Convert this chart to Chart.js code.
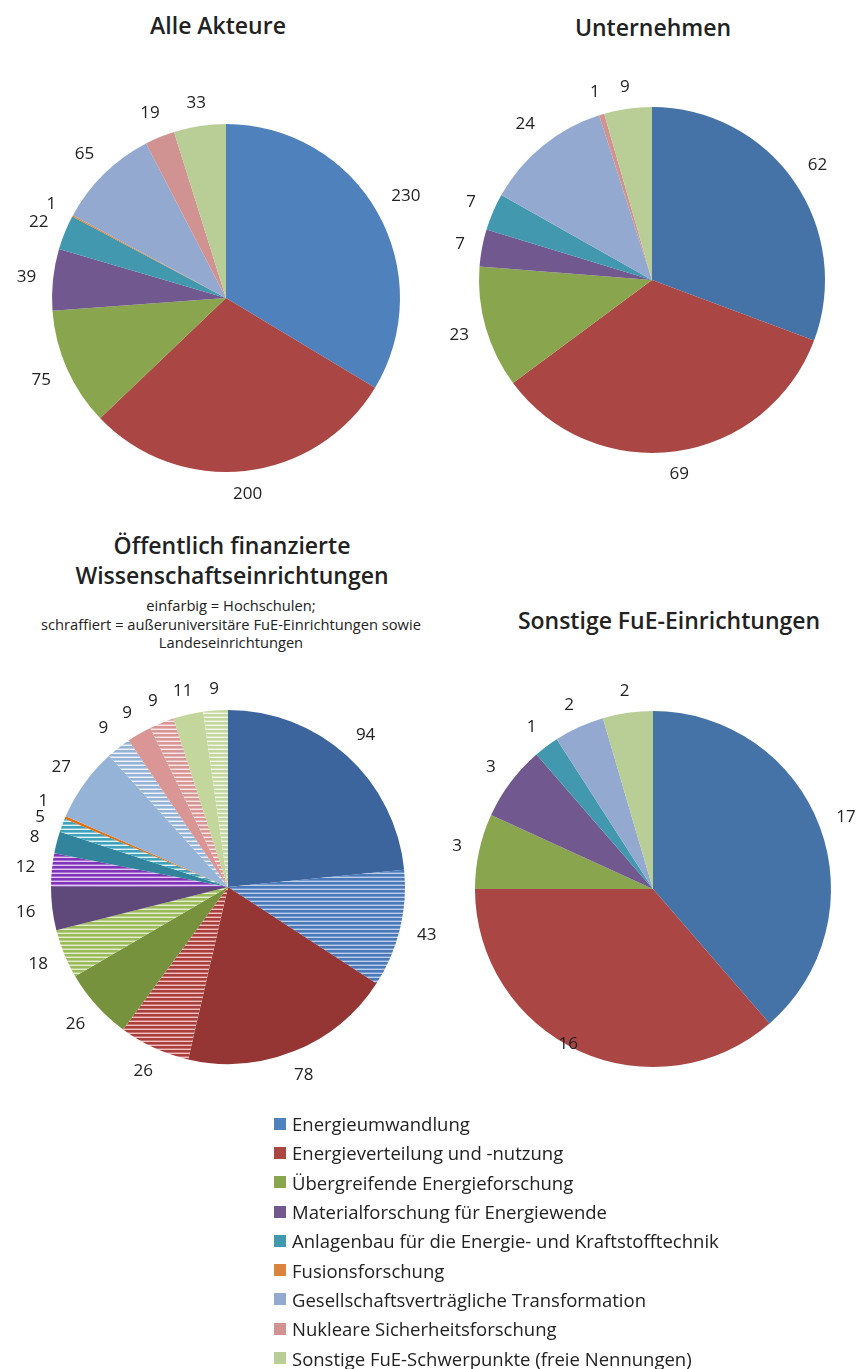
<!DOCTYPE html>
<html>
<head>
<meta charset="utf-8">
<script src="https://cdn.jsdelivr.net/npm/chart.js@4.4.0/dist/chart.umd.min.js"></script>
<style>
  html, body { margin:0; padding:0; }
  body { width:860px; height:1369px; background:#fff; position:relative; overflow:hidden;
         font-family:"Open Sans", "Noto Sans", sans-serif; color:#222; }
  .title { position:absolute; text-align:center; font-weight:600; font-size:23px; line-height:30px; white-space:nowrap; transform:translateX(-50%); }
  .sub { position:absolute; text-align:center; font-size:14.7px; line-height:18.5px; white-space:nowrap; transform:translateX(-50%); }
  canvas { position:absolute; }
  #legend { position:absolute; left:274px; top:1109px; font-size:18.5px; }
  #legend .it { height:29.3px; display:flex; align-items:center; white-space:nowrap; }
  #legend .sw { width:12px; height:12px; margin-right:6px; flex:none; }
</style>
</head>
<body>
<div class="title" style="left:218px;top:10px;">Alle Akteure</div>
<div class="title" style="left:653px;top:12px;">Unternehmen</div>
<div class="title" style="left:232px;top:530px;">Öffentlich finanzierte</div>
<div class="title" style="left:232px;top:560px;">Wissenschaftseinrichtungen</div>
<div class="sub" style="left:231px;top:596px;">einfarbig = Hochschulen;<br>schraffiert = außeruniversitäre FuE-Einrichtungen sowie<br>Landeseinrichtungen</div>
<div class="title" style="left:669px;top:605px;">Sonstige FuE-Einrichtungen</div>

<canvas id="c1" width="480" height="480"></canvas>
<canvas id="c2" width="480" height="480"></canvas>
<canvas id="c3" width="490" height="490"></canvas>
<canvas id="c4" width="490" height="490"></canvas>
<div id="legend"></div>

<script>
// ---------------- DATA ----------------
const categories = [
  'Energieumwandlung',
  'Energieverteilung und -nutzung',
  'Übergreifende Energieforschung',
  'Materialforschung für Energiewende',
  'Anlagenbau für die Energie- und Kraftstofftechnik',
  'Fusionsforschung',
  'Gesellschaftsverträgliche Transformation',
  'Nukleare Sicherheitsforschung',
  'Sonstige FuE-Schwerpunkte (freie Nennungen)'
];
const alleAkteure  = [230, 200, 75, 39, 22, 1, 65, 19, 33];
const unternehmen  = [62, 69, 23, 7, 7, 0, 24, 1, 9];
const hochschulen  = [94, 78, 26, 16, 8, 1, 27, 9, 11];   // einfarbig
const ausserUniv   = [43, 26, 18, 12, 5, 0, 9, 9, 9];     // schraffiert
const sonstigeFuE  = [17, 16, 3, 3, 1, 0, 2, 0, 2];

// ---------------- STYLES ----------------
const colorsAlle  = ['#4F81BD','#AA4643','#89A54E','#71588F','#4198AF','#DB843D','#93A9CF','#D19392','#B9CD96'];
const colorsOther = ['#4572A7','#AA4643','#89A54E','#71588F','#4198AF','#DB843D','#93A9CF','#D19392','#B9CD96'];
const colorsSolid3 = ['#3D659D','#963634','#76923C','#5F497A','#31849B','#E46C0A','#95B3D7','#D99694','#C3D69B'];
const hatchLine3   = ['#4A78B8','#A83F3E','#9BBB59','#8035B8','#3FA3BC','#E46C0A','#95B3D7','#D99694','#C3D69B'];
const hatchGap3    = ['#BCD0EA','#F4C2BF','#E4EDD2','#E2C8F2','#E6F4F8','#FBE0CB','#F2F6FB','#F9EAEA','#F3F7EB'];

function hatch(line, gap) {
  const c = document.createElement('canvas');
  c.width = 8; c.height = 4;
  const x = c.getContext('2d');
  x.fillStyle = gap; x.fillRect(0, 0, 8, 4);
  x.fillStyle = line; x.fillRect(0, 0, 8, 2.6);
  return x.createPattern(c, 'repeat');
}

// ---------------- LABEL PLUGIN ----------------
const outLabels = {
  id: 'outLabels',
  afterDatasetsDraw(chart, args, opts) {
    const ctx = chart.ctx;
    const meta = chart.getDatasetMeta(0);
    const data = chart.data.datasets[0].data;
    ctx.save();
    ctx.font = opts.font;
    ctx.fillStyle = opts.color;
    ctx.textAlign = 'center';
    ctx.textBaseline = 'middle';
    const placed = [];
    meta.data.forEach((arc, i) => {
      const v = data[i];
      if (!v) return;
      const p = arc.getProps(['x','y','startAngle','endAngle','outerRadius'], true);
      const mid = (p.startAngle + p.endAngle) / 2;
      const txt = String(v);
      const hw = ctx.measureText(txt).width / 2 + opts.padX;
      const hh = opts.halfH;
      const d = p.outerRadius + opts.gap + Math.abs(Math.cos(mid)) * hw + Math.abs(Math.sin(mid)) * hh;
      let lx = p.x + Math.cos(mid) * d;
      let ly = p.y + Math.sin(mid) * d;
      // simple overlap avoidance with previous label
      const prev = placed[placed.length - 1];
      if (prev && Math.abs(prev.x - lx) < 18 && Math.abs(prev.y - ly) < 16) {
        ly = lx < p.x ? prev.y - 16 : prev.y + 16;
      }
      if (opts.maxY !== undefined && ly > opts.maxY) ly = opts.maxY;
      placed.push({x: lx, y: ly});
      ctx.fillText(txt, lx, ly);
    });
    ctx.restore();
  }
};

function makePie(id, cx, cy, r, values, colors, extra) {
  const cv = document.getElementById(id);
  cv.style.left = (cx - cv.width / 2) + 'px';
  cv.style.top = (cy - cv.height / 2) + 'px';
  return new Chart(cv, {
    type: 'pie',
    data: {
      labels: extra && extra.labels ? extra.labels : categories,
      datasets: [{
        data: values,
        backgroundColor: colors,
        borderWidth: 0,
        hoverOffset: 0,
        offset: 0
      }]
    },
    options: {
      responsive: false,
      animation: false,
      events: [],
      radius: r,
      layout: { padding: 0 },
      plugins: {
        legend: { display: false },
        tooltip: { enabled: false },
        title: { display: false },
        outLabels: Object.assign({
          font: '17px "Open Sans", "Noto Sans", sans-serif',
          color: '#222',
          gap: 12, padX: 4, halfH: 9
        }, extra && extra.labelOpts ? extra.labelOpts : {})
      }
    },
    plugins: [outLabels]
  });
}

// Chart 1 & 2 & 4
makePie('c1', 226, 298, 174, alleAkteure, colorsAlle);
makePie('c2', 652, 280, 173, unternehmen, colorsOther);
makePie('c4', 653, 889, 178, sonstigeFuE, colorsOther, { labelOpts: { maxY: 1044 - 889 + 245 } });

// Chart 3: interleave Hochschulen (solid) and außeruniversitär (hatched)
const vals3 = [], cols3 = [], labs3 = [];
categories.forEach((cat, i) => {
  vals3.push(hochschulen[i]); cols3.push(colorsSolid3[i]); labs3.push(cat + ' (Hochschulen)');
  vals3.push(ausserUniv[i]);  cols3.push(hatch(hatchLine3[i], hatchGap3[i])); labs3.push(cat + ' (außeruniversitär)');
});
makePie('c3', 228, 887, 177, vals3, cols3, { labels: labs3 });

// Legend
const lg = document.getElementById('legend');
categories.forEach((cat, i) => {
  const it = document.createElement('div'); it.className = 'it';
  const sw = document.createElement('span'); sw.className = 'sw'; sw.style.background = colorsAlle[i];
  const tx = document.createElement('span'); tx.textContent = cat;
  it.appendChild(sw); it.appendChild(tx); lg.appendChild(it);
});
</script>
</body>
</html>
